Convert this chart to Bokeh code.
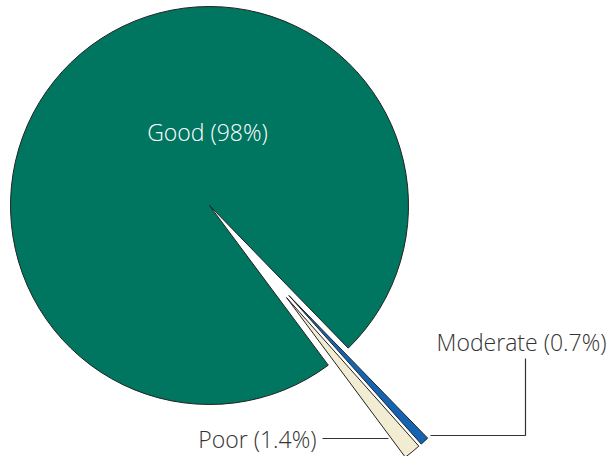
import numpy as np
from bokeh.plotting import figure
from bokeh.models import ColumnDataSource, Range1d
from bokeh.core.properties import value
from bokeh.embed import file_html
from bokeh.resources import INLINE

# ---- data ----
categories = ["Good", "Poor", "Moderate"]
shares = [98.0, 1.4, 0.7]
label_texts = ["Good (98%)", "Poor (1.4%)", "Moderate (0.7%)"]

# ---- styles ----
colors = ["#00755f", "#f2ecd2", "#1464b4"]
explode = [0.0, 120.0, 120.0]
spread = 0.4
start_deg = -45.8
R = 199.0
cx, cy = 209.0, 251.0
FONT = value("Open Sans")
FSIZE = "300 23px"

vals = np.array(shares, dtype=float)
spans = vals / vals.sum() * 2 * np.pi
starts = np.radians(start_deg) + np.concatenate([[0.0], np.cumsum(spans)[:-1]])
ends = starts + spans
bis = (starts + ends) / 2
grp = (starts[1] + ends[2]) / 2
xs, ys = [], []
for i in range(len(vals)):
    phi = grp + spread * (bis[i] - grp) if explode[i] > 0 else bis[i]
    xs.append(cx + explode[i] * np.cos(phi))
    ys.append(cy + explode[i] * np.sin(phi))

src = ColumnDataSource(dict(x=xs, y=ys, start=starts, end=ends, color=colors, cat=categories))

p = figure(width=613, height=456, output_backend="svg", toolbar_location=None,
           x_range=Range1d(0, 613), y_range=Range1d(0, 456),
           min_border=0, outline_line_color=None)
p.axis.visible = False
p.grid.visible = False

p.wedge(x="x", y="y", radius=R, start_angle="start", end_angle="end",
        fill_color="color", line_color="#222222", line_width=1, source=src)

# leader lines
p.line(x=[322, 388], y=[456 - 438, 456 - 438], line_color="#333333", line_width=1.2)
p.line(x=[430, 525, 525], y=[456 - 435, 456 - 435, 456 - 358], line_color="#333333", line_width=1.2)

# labels
p.text(x=[207], y=[456 - 131], text=[label_texts[0]], text_color="white",
       text_font=FONT, text_font_size=FSIZE, text_align="center", text_baseline="middle")
p.text(x=[316], y=[456 - 438], text=[label_texts[1]], text_color="#333333",
       text_font=FONT, text_font_size=FSIZE, text_align="right", text_baseline="middle")
p.text(x=[521], y=[456 - 341], text=[label_texts[2]], text_color="#333333",
       text_font=FONT, text_font_size=FSIZE, text_align="center", text_baseline="middle")

open("out.html", "w").write(file_html(p, INLINE))
